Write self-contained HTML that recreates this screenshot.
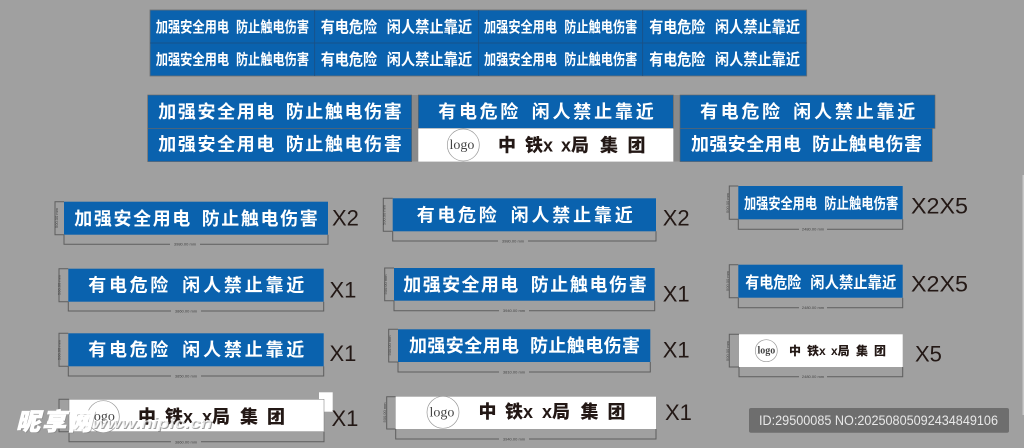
<!DOCTYPE html>
<html><head><meta charset="utf-8">
<style>
html,body{margin:0;padding:0;background:#a0a0a0;width:1024px;height:448px;overflow:hidden}
svg{display:block}
text{font-family:"Liberation Sans","Noto Sans CJK SC",sans-serif}
.w{fill:#fff;font-weight:700;font-family:"Noto Sans CJK SC",sans-serif}
.k{fill:#231815;font-weight:900;font-family:"Liberation Sans","Noto Sans CJK SC",sans-serif}
.b{fill:#0a62ae}
.d{fill:none;stroke:#5e5e5e;stroke-width:1}
.m{font-size:4px;fill:#444;text-anchor:middle}
.q{font-size:22px;fill:#231815}
.l{font-family:"Liberation Serif",serif;fill:#444}
.c{fill:#fff;stroke:#999;stroke-width:.7}
</style></head><body>
<svg width="1024" height="448" viewBox="0 0 1024 448" xmlns="http://www.w3.org/2000/svg">
<rect width="1024" height="448" fill="#a0a0a0"/>
<rect x="1022.5" y="175" width="1.5" height="240" fill="#c8c8c8"/>

<!-- top block -->
<rect class="b" x="150" y="10" width="656.7" height="66" stroke="#707070" stroke-width=".8"/>
<path d="M150 43H806.7M314.7 10V76M478.7 10V76M642.7 10V76" stroke="#1d4f80" stroke-width=".8" fill="none"/>
<g font-size="15">
<text class="w" x="155.7" y="32.1" textLength="73.5" lengthAdjust="spacingAndGlyphs">加强安全用电</text><text class="w" x="236" y="32.1" textLength="73" lengthAdjust="spacingAndGlyphs">防止触电伤害</text>
<text class="w" x="155.7" y="64.7" textLength="73.5" lengthAdjust="spacingAndGlyphs">加强安全用电</text><text class="w" x="236" y="64.7" textLength="73" lengthAdjust="spacingAndGlyphs">防止触电伤害</text>
<text class="w" x="484" y="32.1" textLength="73" lengthAdjust="spacingAndGlyphs">加强安全用电</text><text class="w" x="564.3" y="32.1" textLength="73" lengthAdjust="spacingAndGlyphs">防止触电伤害</text>
<text class="w" x="484" y="64.7" textLength="73" lengthAdjust="spacingAndGlyphs">加强安全用电</text><text class="w" x="564.3" y="64.7" textLength="73" lengthAdjust="spacingAndGlyphs">防止触电伤害</text>
</g>
<g font-size="16">
<text class="w" x="320.7" y="32.5" textLength="56.5" lengthAdjust="spacingAndGlyphs">有电危险</text><text class="w" x="386.7" y="32.5" textLength="85.5" lengthAdjust="spacingAndGlyphs">闲人禁止靠近</text>
<text class="w" x="320.7" y="65.1" textLength="56.5" lengthAdjust="spacingAndGlyphs">有电危险</text><text class="w" x="386.7" y="65.1" textLength="85.5" lengthAdjust="spacingAndGlyphs">闲人禁止靠近</text>
<text class="w" x="649.3" y="32.5" textLength="56" lengthAdjust="spacingAndGlyphs">有电危险</text><text class="w" x="715" y="32.5" textLength="85" lengthAdjust="spacingAndGlyphs">闲人禁止靠近</text>
<text class="w" x="649.3" y="65.1" textLength="56" lengthAdjust="spacingAndGlyphs">有电危险</text><text class="w" x="715" y="65.1" textLength="85" lengthAdjust="spacingAndGlyphs">闲人禁止靠近</text>
</g>

<!-- second block -->
<rect x="411.7" y="95" width="7" height="66.5" fill="#8a8a8a"/>
<rect x="673.3" y="95" width="7" height="66.5" fill="#8a8a8a"/>
<rect class="b" x="147.7" y="95" width="264" height="33.4" stroke="#666" stroke-width=".6"/>
<rect class="b" x="147.7" y="128.4" width="264" height="33.2" stroke="#666" stroke-width=".6"/>
<rect class="b" x="418.3" y="95" width="255" height="33.4" stroke="#666" stroke-width=".6"/>
<rect x="418.3" y="128.4" width="255" height="33.2" fill="#fff"/>
<rect class="b" x="680" y="95" width="255" height="33.4" stroke="#666" stroke-width=".6"/>
<rect class="b" x="680" y="128.4" width="252.3" height="33.2" stroke="#666" stroke-width=".6"/>
<g font-size="18">
<text class="w" x="158.3" y="118.2" textLength="116">加强安全用电</text><text class="w" x="285.7" y="118.2" textLength="116">防止触电伤害</text>
<text class="w" x="158.3" y="150.5" textLength="116">加强安全用电</text><text class="w" x="285.7" y="150.5" textLength="116">防止触电伤害</text>
<text class="w" x="438.3" y="118.2" textLength="80">有电危险</text><text class="w" x="531.7" y="118.2" textLength="122">闲人禁止靠近</text>
<text class="w" x="700" y="118.2" textLength="80">有电危险</text><text class="w" x="793.3" y="118.2" textLength="122">闲人禁止靠近</text>
<text class="w" x="691" y="150.5" textLength="110">加强安全用电</text><text class="w" x="812" y="150.5" textLength="110">防止触电伤害</text>
</g>
<circle class="c" cx="463.3" cy="145" r="16"/><text class="l" x="449.5" y="149" font-size="14">logo</text>
<g font-size="18">
<text class="k" x="498" y="151.5">中</text><text class="k" x="525" y="151.5">铁x</text><text class="k" x="561" y="151.5">x局</text><text class="k" x="600" y="151.5">集</text><text class="k" x="627.5" y="151.5">团</text>
</g>

<!-- left column -->
<rect class="b" x="64" y="201.7" width="264" height="33"/>
<path class="d" d="M64 201.7H55V234.7H64M64 234.7V244.3H328V234.7"/>
<text class="w" font-size="18" x="74.3" y="224.8" textLength="116">加强安全用电</text><text class="w" font-size="18" x="201.7" y="224.8" textLength="116">防止触电伤害</text>
<rect x="170" y="242" width="30" height="5" fill="#a0a0a0"/><text class="m" x="185" y="245.6">3980.00 mm</text>
<text class="m" transform="translate(58,218) rotate(-90)">500.00 mm</text>
<text class="q" x="332" y="225.7">X2</text>

<rect class="b" x="68.3" y="268.7" width="255.4" height="33"/>
<path class="d" d="M68.3 268.7H59V301.7H68.3M68.3 301.7V311H323.7V301.7"/>
<text class="w" font-size="18" x="88.3" y="291.5" textLength="80">有电危险</text><text class="w" font-size="18" x="182.3" y="291.5" textLength="122">闲人禁止靠近</text>
<rect x="171" y="309" width="30" height="5" fill="#a0a0a0"/><text class="m" x="186" y="312.4">3860.00 mm</text>
<text class="m" transform="translate(60.5,285) rotate(-90)">500.00 mm</text>
<text class="q" x="329.5" y="297.7">X1</text>

<rect class="b" x="68.3" y="333.3" width="255.4" height="33"/>
<path class="d" d="M68.3 333.3H59V366.3H68.3M68.3 366.3V376H323.7V366.3"/>
<text class="w" font-size="18" x="88.3" y="355.8" textLength="80">有电危险</text><text class="w" font-size="18" x="182.3" y="355.8" textLength="122">闲人禁止靠近</text>
<rect x="171" y="374" width="30" height="5" fill="#a0a0a0"/><text class="m" x="186" y="377.4">3850.00 mm</text>
<text class="m" transform="translate(60.5,350) rotate(-90)">500.00 mm</text>
<text class="q" x="329.5" y="361">X1</text>

<rect x="319" y="392.3" width="13.7" height="19.4" fill="#fff"/>
<path class="d" d="M69 399.3H59V431.7H69M69 431.7V441.7H324V431.7"/>
<rect x="69" y="399.3" width="255" height="32.4" fill="#fff" stroke="#777" stroke-width=".5"/>
<rect x="171" y="440" width="30" height="5" fill="#a0a0a0"/><text class="m" x="186" y="443.4">3860.00 mm</text>
<circle class="c" cx="103.3" cy="416.7" r="16"/><text class="l" x="90" y="420.7" font-size="14">logo</text>
<g font-size="18">
<text class="k" x="138" y="423">中</text><text class="k" x="165" y="423">铁x</text><text class="k" x="202" y="423">x局</text><text class="k" x="240" y="423">集</text><text class="k" x="267" y="423">团</text>
</g>
<text class="q" x="331.5" y="426">X1</text>

<!-- watermark -->
<text x="93" y="429" font-size="15" font-weight="700" font-style="italic" fill="#777" fill-opacity=".7" textLength="120" lengthAdjust="spacingAndGlyphs">www.nipic.cn</text>
<text x="92" y="428" font-size="15" font-weight="700" font-style="italic" fill="#fff" fill-opacity=".8" textLength="120" lengthAdjust="spacingAndGlyphs">www.nipic.cn</text>
<text x="17" y="431" font-size="24" font-weight="900" font-style="italic" fill="#777" fill-opacity=".5" textLength="76" style="font-family:'Noto Sans CJK SC',sans-serif">昵享网</text>
<text x="16" y="430" font-size="24" font-weight="900" font-style="italic" fill="#fff" stroke="#fff" stroke-width=".7" textLength="76" style="font-family:'Noto Sans CJK SC',sans-serif">昵享网</text>

<!-- middle column -->
<rect class="b" x="392.7" y="198.3" width="263.3" height="33"/>
<path class="d" d="M392.7 198.3H383.3V231.3H392.7M392.7 231.3V241H656V231.3"/>
<text class="w" font-size="18" x="416.7" y="221.5" textLength="80">有电危险</text><text class="w" font-size="18" x="510.7" y="221.5" textLength="122">闲人禁止靠近</text>
<rect x="498" y="239" width="30" height="5" fill="#a0a0a0"/><text class="m" x="513" y="242.4">3980.00 mm</text>
<text class="m" transform="translate(385.5,215) rotate(-90)">500.00 mm</text>
<text class="q" x="662.7" y="225.7">X2</text>

<rect class="b" x="394" y="268" width="260.7" height="32.7"/>
<path class="d" d="M394 268H384.7V300.7H394M394 300.7V310.7H654.7V300.7"/>
<text class="w" font-size="18" x="403.3" y="291.2" textLength="115">加强安全用电</text><text class="w" font-size="18" x="530.7" y="291.2" textLength="116">防止触电伤害</text>
<rect x="499" y="308.7" width="30" height="5" fill="#a0a0a0"/><text class="m" x="514" y="312">3940.00 mm</text>
<text class="m" transform="translate(387,284.5) rotate(-90)">500.00 mm</text>
<text class="q" x="662.7" y="301.7">X1</text>

<rect class="b" x="398" y="329.3" width="252.3" height="32.7"/>
<path class="d" d="M398 329.3H388.7V362H398M398 362V372H650.3V362"/>
<text class="w" font-size="18" x="409" y="351.8" textLength="110">加强安全用电</text><text class="w" font-size="18" x="530" y="351.8" textLength="110">防止触电伤害</text>
<rect x="499" y="370" width="30" height="5" fill="#a0a0a0"/><text class="m" x="514" y="373.4">3810.00 mm</text>
<text class="m" transform="translate(391,345.5) rotate(-90)">500.00 mm</text>
<text class="q" x="662.7" y="357.3">X1</text>

<path class="d" d="M395.7 396.7H386.7V429H395.7M395.7 429V439H656V429"/>
<rect x="395.7" y="396.7" width="260.3" height="32.3" fill="#fff"/>
<rect x="499" y="437" width="30" height="5" fill="#a0a0a0"/><text class="m" x="514" y="440.4">3940.00 mm</text>
<text class="m" transform="translate(386,412.5) rotate(-90)">500.00 mm</text>
<circle class="c" cx="443" cy="412.3" r="16"/><text class="l" x="429.5" y="416.3" font-size="14">logo</text>
<g font-size="18">
<text class="k" x="478.5" y="418">中</text><text class="k" x="505" y="418">铁x</text><text class="k" x="542" y="418">x局</text><text class="k" x="580.5" y="418">集</text><text class="k" x="607.5" y="418">团</text>
</g>
<text class="q" x="665" y="420">X1</text>

<!-- right column -->
<rect class="b" x="738.3" y="186" width="164.4" height="33.3"/>
<path class="d" d="M738.3 186H729.3V219.3H738.3M738.3 219.3V229.3H902.7V219.3"/>
<text class="w" font-size="15" x="744" y="208.7" textLength="73" lengthAdjust="spacingAndGlyphs">加强安全用电</text><text class="w" font-size="15" x="824.3" y="208.7" textLength="74" lengthAdjust="spacingAndGlyphs">防止触电伤害</text>
<rect x="799" y="227.3" width="28" height="5" fill="#a0a0a0"/><text class="m" x="813" y="230.6">2480.00 mm</text>
<text class="m" transform="translate(729,203) rotate(-90)">500.00 mm</text>
<text class="q" x="911" y="213.3" textLength="57" lengthAdjust="spacingAndGlyphs">X2X5</text>

<rect class="b" x="738.3" y="264.7" width="164.4" height="33"/>
<path class="d" d="M738.3 264.7H729.3V297.7H738.3M738.3 297.7V307.7H902.7V297.7"/>
<text class="w" font-size="16" x="745.3" y="288.1" textLength="56" lengthAdjust="spacingAndGlyphs">有电危险</text><text class="w" font-size="16" x="810.3" y="288.1" textLength="86" lengthAdjust="spacingAndGlyphs">闲人禁止靠近</text>
<rect x="799" y="305.7" width="28" height="5" fill="#a0a0a0"/><text class="m" x="813" y="309">2480.00 mm</text>
<text class="m" transform="translate(729,281) rotate(-90)">500.00 mm</text>
<text class="q" x="911" y="291.7" textLength="57" lengthAdjust="spacingAndGlyphs">X2X5</text>

<path class="d" d="M739 334.3H729.3V367H739M739 367V376.7H902.7V367"/>
<rect x="739" y="334.3" width="163.7" height="32.7" fill="#fff"/>
<rect x="799" y="374.7" width="28" height="5" fill="#a0a0a0"/><text class="m" x="813" y="378">2480.00 mm</text>
<text class="m" transform="translate(729,351) rotate(-90)">500.00 mm</text>
<circle class="c" cx="766.3" cy="350.7" r="11"/><text class="l" x="757.5" y="353.7" font-size="10" font-weight="700">logo</text>
<g font-size="12">
<text class="k" x="789" y="355">中</text><text class="k" x="807" y="355">铁x</text><text class="k" x="831" y="355">x局</text><text class="k" x="856" y="355">集</text><text class="k" x="874" y="355">团</text>
</g>
<text class="q" x="915" y="361.7">X5</text>

<!-- ID box -->
<rect x="749" y="408" width="260" height="24.7" rx="2" fill="#6e6e6e"/>
<text x="759" y="425" font-size="14" fill="#e8e8e8" textLength="239" lengthAdjust="spacingAndGlyphs">ID:29500085 NO:20250805092434849106</text>
</svg>
</body></html>
